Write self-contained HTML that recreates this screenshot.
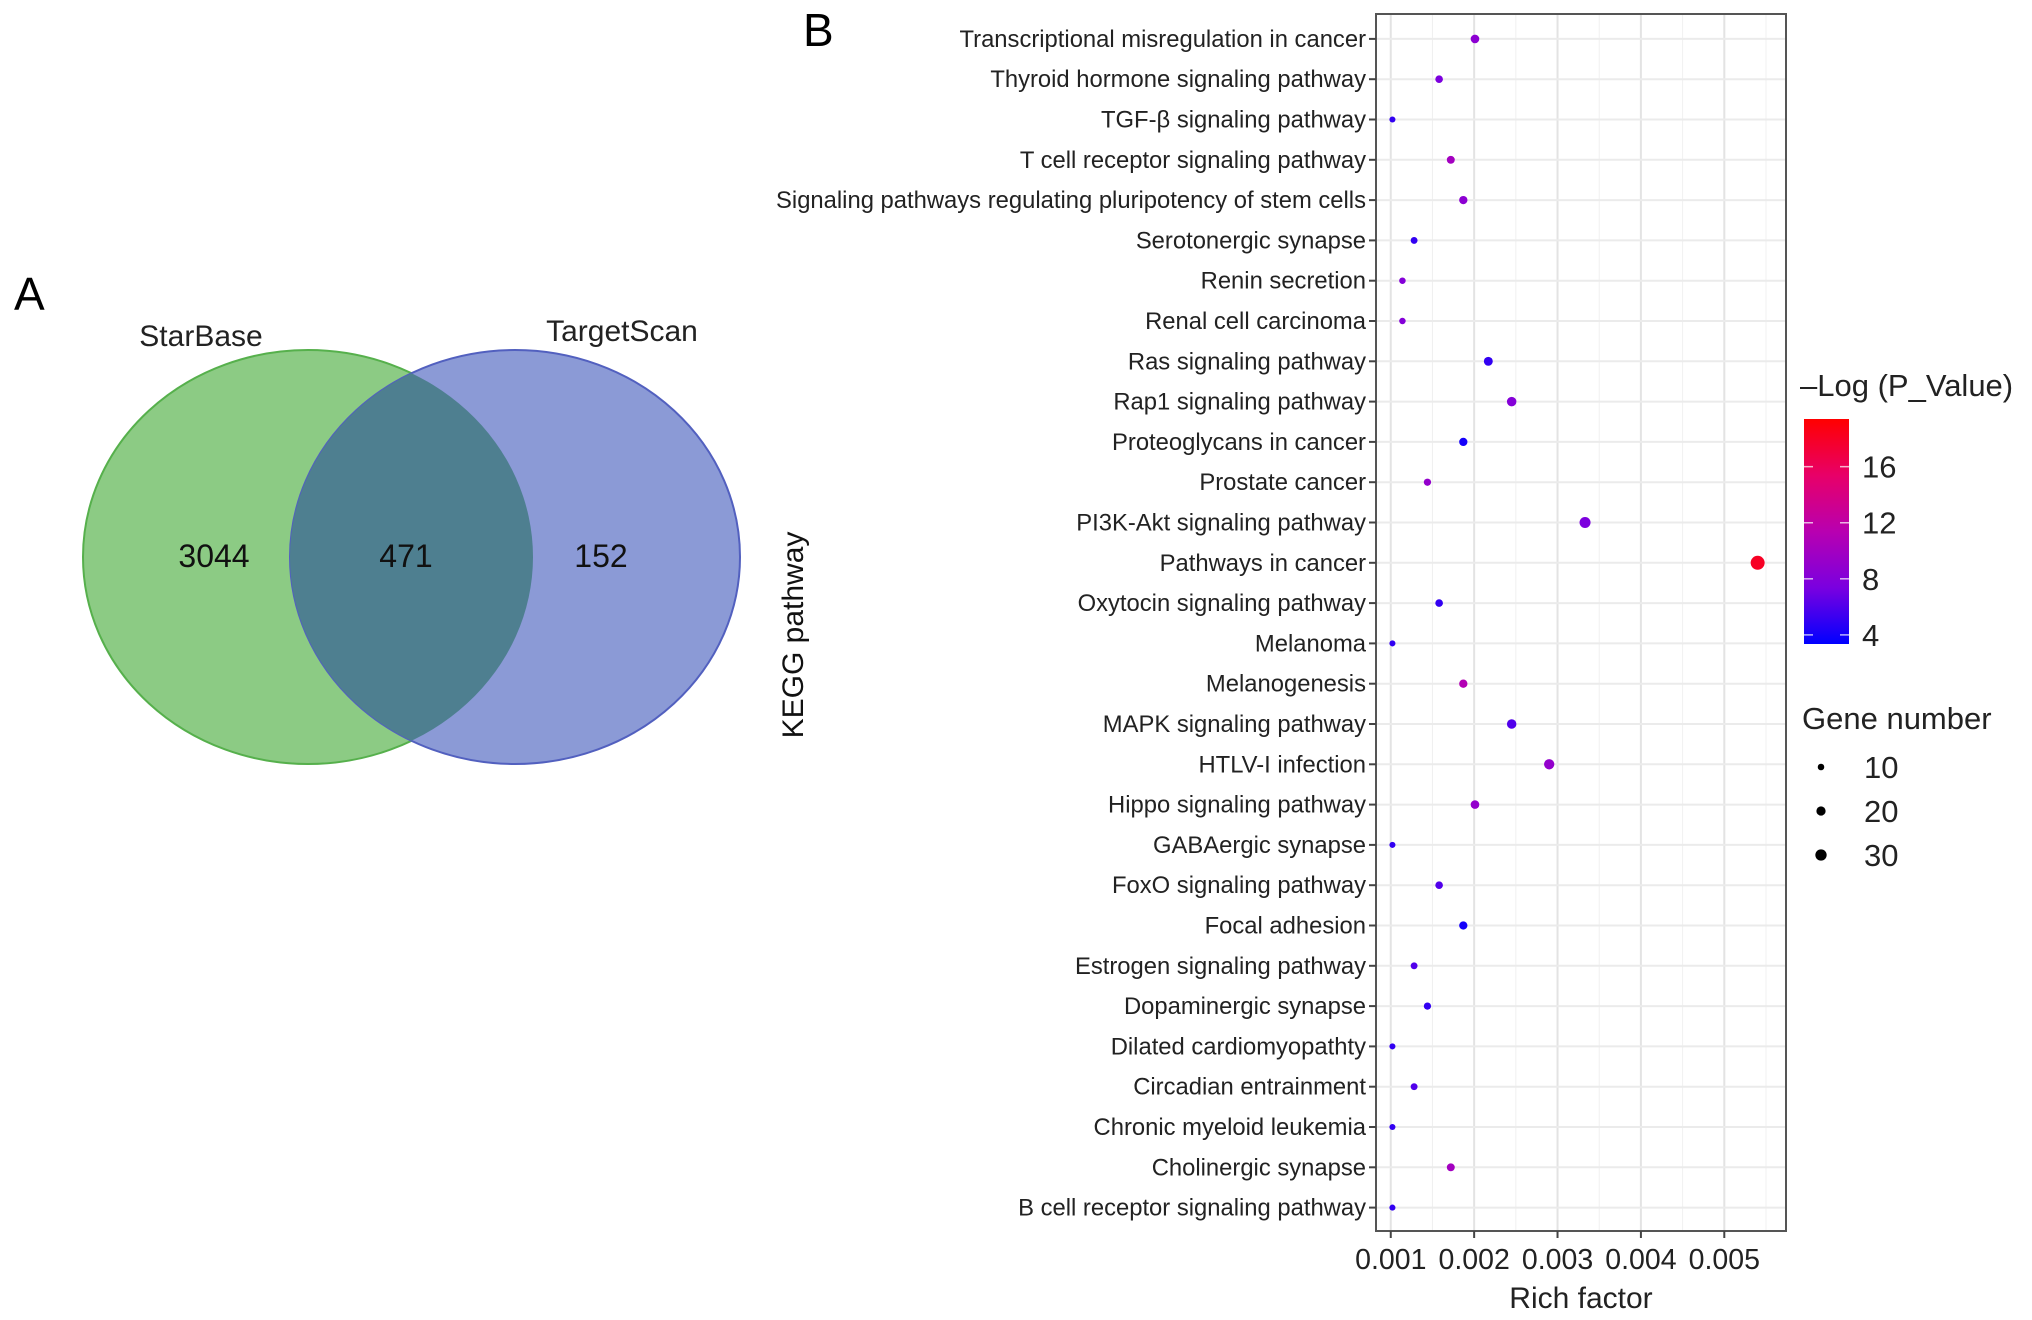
<!DOCTYPE html>
<html><head><meta charset="utf-8"><style>
html,body{margin:0;padding:0;background:#fff;}
svg{display:block;font-family:"Liberation Sans",Arial,sans-serif;}
</style></head><body>
<svg id="fig" width="2032" height="1320" viewBox="0 0 2032 1320">
<defs>
<clipPath id="greenClip"><ellipse cx="308" cy="557" rx="225" ry="207"/></clipPath>
<linearGradient id="cbar" x1="0" y1="1" x2="0" y2="0">
<stop offset="0" stop-color="#0000ff"/><stop offset="0.25" stop-color="#7a00e0"/><stop offset="0.5" stop-color="#b800b0"/><stop offset="0.75" stop-color="#e80068"/><stop offset="1" stop-color="#ff0000"/>
</linearGradient>
</defs>
<text x="14" y="310" font-size="46">A</text>
<text x="803" y="46" font-size="46">B</text>
<g>
<ellipse cx="308" cy="557" rx="225" ry="207" fill="#8ccb84" stroke="#56b04c" stroke-width="2"/>
<ellipse cx="515" cy="557" rx="225" ry="207" fill="#8b9ad6" stroke="#5260bf" stroke-width="2"/>
<ellipse cx="515" cy="557" rx="225" ry="207" fill="#4e7f90" clip-path="url(#greenClip)"/>
<text x="201" y="346" font-size="30" text-anchor="middle" fill="#222">StarBase</text>
<text x="622" y="341" font-size="30" text-anchor="middle" fill="#222">TargetScan</text>
<text x="214" y="567" font-size="32" text-anchor="middle" fill="#111">3044</text>
<text x="406" y="567" font-size="32" text-anchor="middle" fill="#111">471</text>
<text x="601" y="567" font-size="32" text-anchor="middle" fill="#111">152</text>
</g>
<text transform="translate(803,635) rotate(-90)" font-size="30" text-anchor="middle" fill="#111">KEGG pathway</text>
<g id="chart"></g>
</svg>
<script>
const categories=["Transcriptional misregulation in cancer","Thyroid hormone signaling pathway","TGF-\u03b2 signaling pathway","T cell receptor signaling pathway","Signaling pathways regulating pluripotency of stem cells","Serotonergic synapse","Renin secretion","Renal cell carcinoma","Ras signaling pathway","Rap1 signaling pathway","Proteoglycans in cancer","Prostate cancer","PI3K-Akt signaling pathway","Pathways in cancer","Oxytocin signaling pathway","Melanoma","Melanogenesis","MAPK signaling pathway","HTLV-I infection","Hippo signaling pathway","GABAergic synapse","FoxO signaling pathway","Focal adhesion","Estrogen signaling pathway","Dopaminergic synapse","Dilated cardiomyopathty","Circadian entrainment","Chronic myeloid leukemia","Cholinergic synapse","B cell receptor signaling pathway"];
const richFactor=[0.00201,0.00158,0.00102,0.00172,0.00187,0.00128,0.00114,0.00114,0.00217,0.00245,0.00187,0.00144,0.00333,0.0054,0.00158,0.00102,0.00187,0.00245,0.0029,0.00201,0.00102,0.00158,0.00187,0.00128,0.00144,0.00102,0.00128,0.00102,0.00172,0.00102];
const geneNumber=[14,11,7,12,13,9,8,8,15,17,13,10,23,37,11,7,13,17,20,14,7,11,13,9,10,7,9,7,12,7];
const negLogP=[8.5,7.5,5,10,8.5,5,8,8,5,8,4,9,7.5,18,5,5,11,6,9,9,5,6,4,6,5,5,6,5,10,5];
const xTicks=[0.001,0.002,0.003,0.004,0.005];
const xTickLabels=["0.001","0.002","0.003","0.004","0.005"];
const colorTicks=[4,8,12,16];
const sizeLegend=[10,20,30];

const NS="http://www.w3.org/2000/svg";
const g=document.getElementById('chart');
const L=1376,R=1786,T=14,B=1231;
const xMin=0.000823,xMax=0.00574;
function xs(v){return L+(v-xMin)/(xMax-xMin)*(R-L);}
const rowTop=38.9,rowStep=40.3;
function ys(i){return rowTop+i*rowStep;}
function rs(n){return Math.sqrt(n)*1.15;}
const cStops=[[0,0,255],[122,0,224],[184,0,176],[232,0,104],[255,0,0]];
const cMin=3.35,cMax=19.4;
function cs(v){let t=(v-cMin)/(cMax-cMin);t=Math.max(0,Math.min(1,t))*4;let i=Math.min(3,Math.floor(t));let f=t-i;const a=cStops[i],b=cStops[i+1];return 'rgb('+a.map((c,k)=>Math.round(c+(b[k]-c)*f)).join(',')+')';}
const cbTop=419,cbBot=644;
function cy(v){return cbBot-(v-cMin)/(cMax-cMin)*(cbBot-cbTop);}
function el(tag,attrs,parent){const e=document.createElementNS(NS,tag);for(const k in attrs)e.setAttribute(k,attrs[k]);(parent||g).appendChild(e);return e;}

el('rect',{x:L,y:T,width:R-L,height:B-T,fill:'#fff'});
for(let i=0;i<xTicks.length;i++){const m=xTicks[i]+0.0005;if(m<xMax){const l=el('line',{x1:xs(m),x2:xs(m),y1:T,y2:B,stroke:'#f0f0f0','stroke-width':1});}}
for(let i=0;i<xTicks.length;i++){const l=el('line',{x1:xs(xTicks[i]),x2:xs(xTicks[i]),y1:T,y2:B,stroke:'#e3e3e3','stroke-width':2});}
for(let i=0;i<categories.length;i++){const l=el('line',{x1:L,x2:R,y1:ys(i),y2:ys(i),stroke:'#ebebeb','stroke-width':2});}
const frame=el('rect',{x:L,y:T,width:R-L,height:B-T,fill:'none',stroke:'#555','stroke-width':2});


for(let i=0;i<categories.length;i++){
 el('line',{x1:L-7,x2:L,y1:ys(i),y2:ys(i),stroke:'#444','stroke-width':2});
 const t=el('text',{x:L-10,y:ys(i)+8,'font-size':23.8,'text-anchor':'end',fill:'#222'});
 t.textContent=categories[i];
 
 
}
for(let i=0;i<xTicks.length;i++){
 el('line',{x1:xs(xTicks[i]),x2:xs(xTicks[i]),y1:B,y2:B+7,stroke:'#444','stroke-width':2});
 const t=el('text',{x:xs(xTicks[i]),y:B+38,'font-size':28.5,'text-anchor':'middle',fill:'#222'});
 t.textContent=xTickLabels[i];
 
 
}
const xt=el('text',{x:(L+R)/2,y:B+77,'font-size':30,'text-anchor':'middle',fill:'#222'});
xt.textContent='Rich factor';


for(let i=0;i<categories.length;i++){
 const c=el('circle',{cx:xs(richFactor[i]),cy:ys(i),r:rs(geneNumber[i]),fill:cs(negLogP[i])});
 
 
}
const ct=el('text',{x:1800,y:396,'font-size':31,fill:'#222'});
ct.textContent='\u2013Log (P_Value)';


const cb=el('rect',{x:1804,y:cbTop,width:45,height:cbBot-cbTop,fill:'url(#cbar)'});


for(let i=0;i<colorTicks.length;i++){
 const y=cy(colorTicks[i]);
 el('line',{x1:1804,x2:1813,y1:y,y2:y,stroke:'#fff','stroke-width':1.5,opacity:0.7});
 el('line',{x1:1840,x2:1849,y1:y,y2:y,stroke:'#fff','stroke-width':1.5,opacity:0.7});
 const t=el('text',{x:1862,y:y+11,'font-size':31,fill:'#222'});
 t.textContent=String(colorTicks[i]);
 
 
}
const st=el('text',{x:1802,y:729,'font-size':31,fill:'#222'});
st.textContent='Gene number';


for(let i=0;i<sizeLegend.length;i++){
 const y=767+i*44;
 const c=el('circle',{cx:1821,cy:y,r:rs(sizeLegend[i])*0.9,fill:'#000'});
 
 
 const t=el('text',{x:1864,y:y+11,'font-size':31,fill:'#222'});
 t.textContent=String(sizeLegend[i]);
 
 
}
</script>
</body></html>
